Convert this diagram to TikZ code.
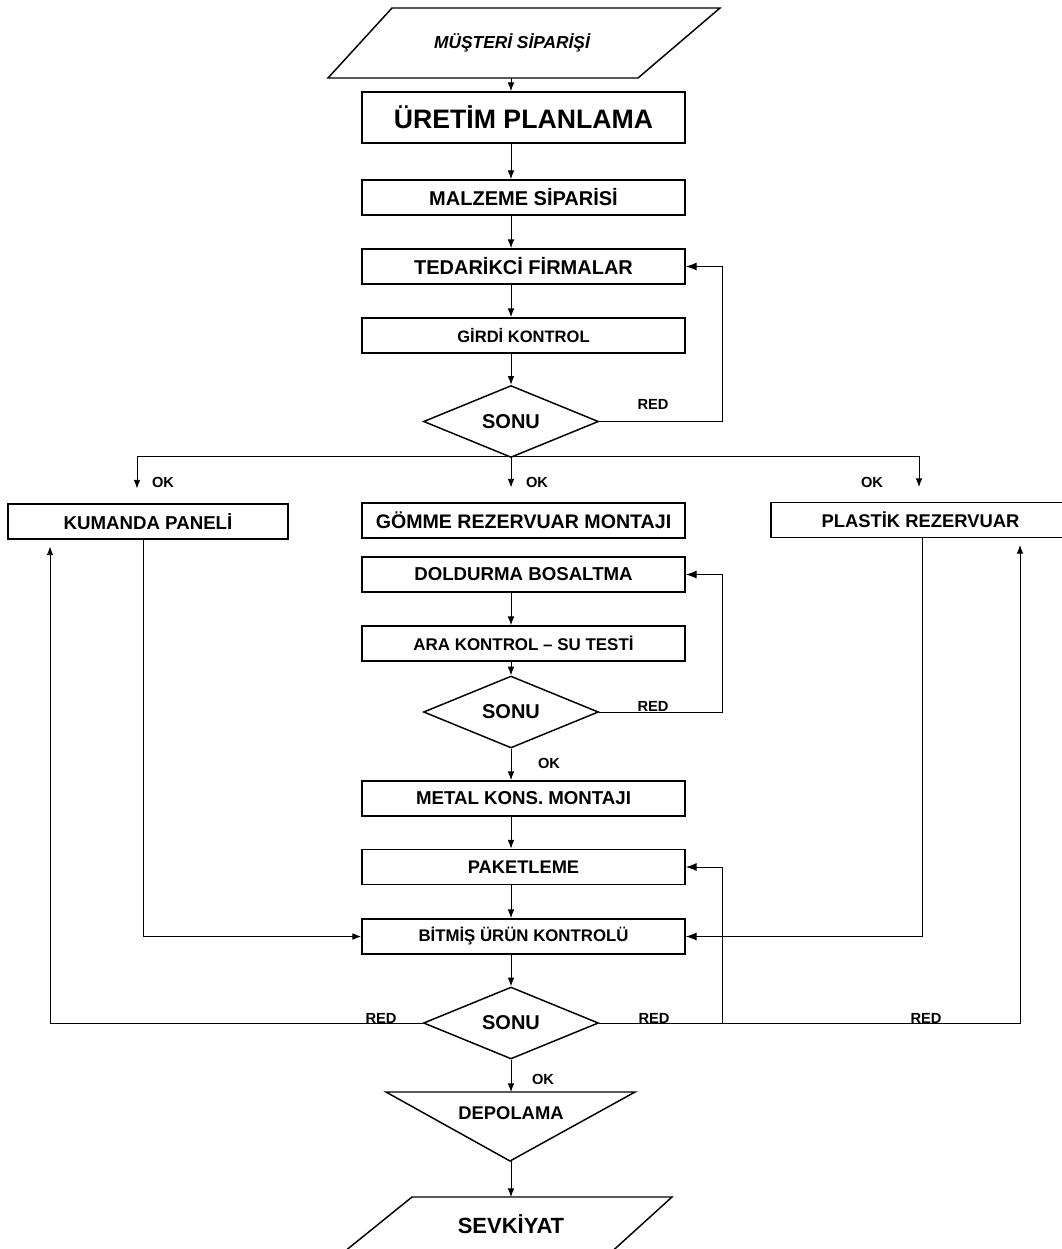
\documentclass[tikz,border=0pt]{standalone}
\usepackage{fontspec}
\setmainfont{Liberation Sans}
\usetikzlibrary{arrows.meta,shapes.geometric,calc}
\newcommand\sz[1]{\fontsize{#1}{#1}\selectfont}
\begin{document}
\begin{tikzpicture}[x=0.75pt,y=-0.75pt,
  box/.style={draw,line width=1.3pt,rectangle,minimum width=242.25pt,
    minimum height=26.25pt,inner sep=0pt},
  decision/.style={draw,line width=1.1pt,diamond,minimum width=131.25pt,
    minimum height=51pt,inner sep=0pt,font=\bfseries\sz{15}},
  outline/.style={draw,line width=1.1pt,line join=miter},
  link/.style={line width=0.7pt},
  arr/.style={link,-{Latex[length=6.5pt,width=5pt]}},
  bigarr/.style={link,-{Latex[length=8pt,width=6pt]}},
  lbl/.style={font=\bfseries\sz{11},inner sep=0pt}
]
% page frame
\fill[white,use as bounding box] (0,0) rectangle (1062,1249);
\clip (0,0) rectangle (1062,1249);

% guide columns
\coordinate (spine) at (511,0);
\coordinate (loopX) at (722,0);
\coordinate (okL)   at (137,0);
\coordinate (okR)   at (919,0);
\coordinate (br)    at (0,456);
\coordinate (colL)  at (50,0);
\coordinate (colR)  at (1020,0);
\coordinate (kumX)  at (143,0);
\coordinate (plaX)  at (922,0);

% customer order (input parallelogram)
\coordinate (o1) at (392,8);
\coordinate (o2) at (720,8);
\coordinate (o3) at (638,78);
\coordinate (o4) at (328,78);
\draw[outline] (o1)--(o2)--(o3)--(o4)--cycle;
\node[font=\bfseries\itshape\sz{13}] (order) at (512,43) {MÜŞTERİ SİPARİŞİ};
\coordinate (orderB) at (511,78);

% main process column
\node[box,minimum height=38.25pt,font=\bfseries\sz{20}] (plan) at (523.5,117.5) {ÜRETİM PLANLAMA};
\node[box,font=\bfseries\sz{15}] (malz) at (523.5,197.5) {MALZEME SİPARİSİ};
\node[box,font=\bfseries\sz{15}] (tedar) at (523.5,266.5) {TEDARİKCİ FİRMALAR};
\node[box,font=\bfseries\sz{12.4}] (girdi) at (523.5,335.5) {GİRDİ KONTROL};
\node[decision] (d1) at (511,421.5) {SONU};

\node[box,minimum width=210pt,font=\bfseries\sz{14}] (kum) at (148,521.5) {KUMANDA PANELİ};
\node[box,font=\bfseries\sz{14.7}] (gomme) at (523.5,520.5) {GÖMME REZERVUAR MONTAJI};
\node[box,minimum width=224.25pt,font=\bfseries\sz{13.8}] (plas) at (920.5,520) {PLASTİK REZERVUAR};

\node[box,font=\bfseries\sz{14}] (dold) at (523.5,574.5) {DOLDURMA BOSALTMA};
\node[box,font=\bfseries\sz{12.7}] (ara) at (523.5,643.5) {ARA KONTROL – SU TESTİ};
\node[decision] (d2) at (511,712) {SONU};
\node[box,font=\bfseries\sz{14}] (metal) at (523.5,798.5) {METAL KONS. MONTAJI};
\node[box,font=\bfseries\sz{13.7}] (paket) at (523.5,867) {PAKETLEME};
\node[box,font=\bfseries\sz{12.6}] (bitmis) at (523.5,936.5) {BİTMİŞ ÜRÜN KONTROLÜ};
\node[decision] (d3) at (511,1023) {SONU};

% storage (inverted triangle)
\coordinate (dp1) at (386,1092);
\coordinate (dp2) at (635,1092);
\coordinate (dp3) at (510,1161);
\draw[outline] (dp1)--(dp2)--(dp3)--cycle;
\node[font=\bfseries\sz{13.8}] (depo) at (511,1113) {DEPOLAMA};

% shipment (output parallelogram)
\coordinate (sv1) at (412,1197);
\coordinate (sv2) at (672,1197);
\coordinate (sv3) at (607,1256);
\coordinate (sv4) at (339,1256);
\draw[outline] (sv1)--(sv2)--(sv3)--(sv4)--cycle;
\node[font=\bfseries\sz{16.5}] (sevk) at (511,1224) {SEVKİYAT};

% connectors: upper part
\draw[arr] (orderB) -- (plan.north -| spine);
\draw[arr] (plan.south -| spine) -- (malz.north -| spine);
\draw[arr] (malz.south -| spine) -- (tedar.north -| spine);
\draw[arr] (tedar.south -| spine) -- (girdi.north -| spine);
\draw[arr] (girdi.south -| spine) -- (d1.north);
\draw[bigarr] (d1.east) -- (d1.east -| loopX) |- (tedar.east);

% three-way split after incoming control
\draw[link] (br -| okL) -- (br -| okR);
\draw[arr,shorten >=11pt] (br -| okL) -- (kum.north -| okL);
\draw[arr,shorten >=11pt] (d1.south) -- (gomme.north -| spine);
\draw[arr,shorten >=11pt] (br -| okR) -- (plas.north -| okR);

% connectors: middle part
\draw[arr] (dold.south -| spine) -- (ara.north -| spine);
\draw[arr] (ara.south -| spine) -- (d2.north);
\draw[bigarr] (d2.east) -- (d2.east -| loopX) |- (dold.east);
\draw[arr] (d2.south) -- (metal.north -| spine);
\draw[arr] (metal.south -| spine) -- (paket.north -| spine);
\draw[arr] (paket.south -| spine) -- (bitmis.north -| spine);
\draw[arr] (kum.south -| kumX) |- (bitmis.west);
\draw[bigarr] (plas.south -| plaX) |- (bitmis.east);

% final control and returns
\draw[arr] (bitmis.south -| spine) -- (d3.north);
\draw[arr,shorten >=5pt] (d3.west) -| (kum.south -| colL);
\draw[arr,shorten >=5pt] (d3.east) -| (plas.south -| colR);
\draw[bigarr] (d3.east -| loopX) |- (paket.east);
\draw[arr] (d3.south) -- (spine |- dp1);
\draw[arr] (spine |- dp3) -- (spine |- sv1);

% branch labels
\node[lbl] (red1) at (653,404) {RED};
\node[lbl] (red2) at (653,706) {RED};
\node[lbl] (red3) at (381,1018) {RED};
\node[lbl] (red4) at (654,1018) {RED};
\node[lbl] (red5) at (926,1018) {RED};
\node[lbl] (ok1) at (163,482) {OK};
\node[lbl] (ok2) at (537,482) {OK};
\node[lbl] (ok3) at (872,482) {OK};
\node[lbl] (ok4) at (549,763) {OK};
\node[lbl] (ok5) at (543,1079) {OK};
\end{tikzpicture}
\end{document}
